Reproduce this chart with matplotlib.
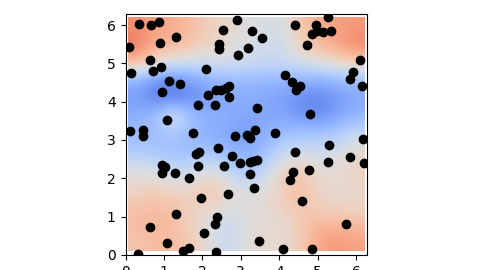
import numpy as np
import matplotlib
matplotlib.use("Agg")
import matplotlib.pyplot as plt

# scatter points
px = [0.36, 0.67, 0.88, 0.10, 0.91, 1.31, 0.64, 0.71, 0.93, 0.15, 1.14, 1.42, 0.96,
      2.09, 2.54, 2.44, 2.44, 2.94, 2.90, 2.14, 1.89, 2.32, 2.35, 2.48, 2.61, 2.70,
      2.69, 1.09, 0.12, 0.46, 0.45, 1.76, 2.86,
      3.29, 3.56, 3.19, 4.42, 5.27, 4.97, 4.85, 4.98, 5.14, 5.36, 4.71, 6.10, 5.92,
      5.85, 6.15, 4.14, 4.34, 4.54, 4.43, 3.43, 4.80, 3.38, 3.16, 3.23, 3.88, 6.19,
      2.41, 1.83, 1.90, 2.76, 2.98, 2.56, 1.89, 0.94, 1.03, 0.94, 1.28, 1.66, 2.66,
      1.97, 1.31, 2.38, 2.33, 0.65, 2.04, 1.09, 1.66, 1.49, 0.33, 2.35,
      4.42, 5.29, 5.27, 5.85, 6.20, 3.23, 3.32, 3.42, 3.24, 3.34, 4.37, 4.29, 4.77,
      4.60, 5.73, 3.47, 4.11, 4.85]
py = [6.02, 5.99, 6.09, 5.42, 5.53, 5.68, 5.10, 4.81, 4.90, 4.75, 4.55, 4.47, 4.24,
      4.84, 5.88, 5.51, 5.38, 5.23, 6.14, 4.17, 3.91, 3.91, 4.30, 4.30, 4.35, 4.40,
      4.11, 3.52, 3.24, 3.26, 3.10, 3.18, 3.11,
      5.84, 5.67, 5.41, 5.99, 6.22, 5.99, 5.76, 5.84, 5.82, 5.84, 5.48, 5.10, 4.78,
      4.60, 4.41, 4.70, 4.51, 4.42, 4.30, 3.84, 3.68, 3.26, 3.12, 3.04, 3.17, 3.02,
      2.79, 2.63, 2.69, 2.58, 2.41, 2.33, 2.33, 2.36, 2.30, 2.15, 2.15, 2.01, 1.58,
      1.49, 1.06, 1.00, 0.80, 0.74, 0.57, 0.30, 0.19, 0.11, 0.03, 0.07,
      2.69, 2.86, 2.43, 2.56, 2.40, 2.43, 2.46, 2.47, 2.10, 1.75, 2.17, 1.95, 2.21,
      1.41, 0.80, 0.37, 0.15, 0.15]

# background field, rows y = 0, 0.5, ..., 6 (bottom to top), columns x = 0, 0.5, ..., 6
field = [
    [0.25, 0.30, 0.30, 0.20, 0.00, -0.15, 0.00, 0.10, 0.05, 0.20, 0.45, 0.50, 0.45],
    [0.30, 0.35, 0.30, 0.15, -0.05, -0.15, 0.00, 0.05, 0.05, 0.20, 0.35, 0.35, 0.30],
    [0.25, 0.30, 0.25, 0.15, 0.15, 0.00, 0.00, 0.05, 0.15, 0.25, 0.15, 0.10, 0.10],
    [0.10, 0.15, 0.10, 0.10, 0.25, 0.10, -0.05, 0.00, 0.20, 0.30, 0.10, 0.05, 0.10],
    [0.00, -0.05, -0.15, -0.15, 0.00, -0.20, -0.40, -0.20, 0.15, 0.20, 0.05, 0.05, 0.15],
    [-0.30, -0.35, -0.40, -0.40, -0.35, -0.45, -0.50, -0.40, -0.15, -0.10, -0.10, -0.05, 0.10],
    [-0.40, -0.40, -0.35, -0.45, -0.50, -0.55, -0.65, -0.50, -0.40, -0.35, -0.35, -0.30, -0.15],
    [-0.50, -0.40, 0.05, -0.40, -0.50, -0.50, -0.55, -0.55, -0.55, -0.65, -0.70, -0.55, -0.45],
    [-0.60, -0.75, -0.80, -0.70, -0.60, -0.55, -0.50, -0.55, -0.60, -0.70, -0.75, -0.65, -0.55],
    [-0.50, -0.70, -0.75, -0.60, -0.50, -0.45, -0.45, -0.45, -0.45, -0.50, -0.50, -0.45, -0.40],
    [0.35, 0.10, -0.05, -0.10, -0.10, -0.05, -0.10, -0.15, -0.15, -0.05, 0.00, 0.10, 0.20],
    [0.65, 0.40, 0.35, 0.25, 0.15, 0.05, -0.05, -0.10, -0.10, 0.15, 0.35, 0.45, 0.60],
    [0.55, 0.45, 0.40, 0.30, 0.15, 0.10, 0.00, -0.05, -0.05, 0.25, 0.40, 0.45, 0.50],
]

fig = plt.figure(figsize=(4.8, 2.7), dpi=100)
ax = fig.add_axes([0.2615, 0.0556, 0.503, 0.892])
ax.imshow(np.array(field), origin="lower", cmap="coolwarm", vmin=-1, vmax=1,
          interpolation="bicubic", extent=[0.07, 6.22, 0.10, 6.20], aspect="auto")
ax.scatter(px, py, c="black", s=36, zorder=3)
ax.set_xlim(0, 2 * np.pi)
ax.set_ylim(0, 2 * np.pi)
ax.set_xticks(range(7))
ax.set_yticks(range(7))
fig.savefig("out.png", dpi=100)
